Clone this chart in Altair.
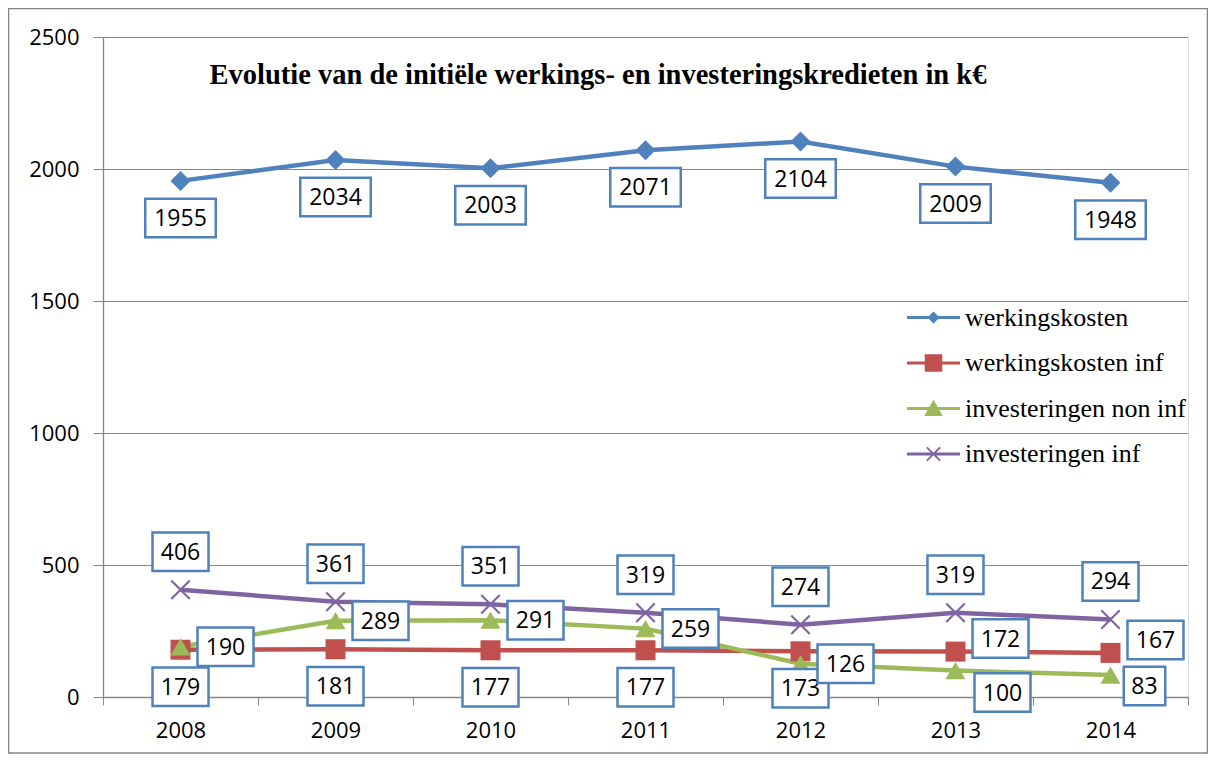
import altair as alt
import pandas as pd

# ---------------- data ----------------
years = ["2008", "2009", "2010", "2011", "2012", "2013", "2014"]
series_names = ["werkingskosten", "werkingskosten inf",
                "investeringen non inf", "investeringen inf"]
werkingskosten = [1955, 2034, 2003, 2071, 2104, 2009, 1948]
werkingskosten_inf = [179, 181, 177, 177, 173, 172, 167]
investeringen_non_inf = [190, 289, 291, 259, 126, 100, 83]
investeringen_inf = [406, 361, 351, 319, 274, 319, 294]
y_ticks = [0, 500, 1000, 1500, 2000, 2500]
title_text = "Evolutie van de initiële werkings- en investeringskredieten in k€"

# ---------------- styling ----------------
colors = ["#4F81BD", "#C0504D", "#9BBB59", "#8064A2"]
label_place = {
    "werkingskosten": ["below"] * 7,
    "werkingskosten inf": ["below"] * 5 + ["right_up", "right_up"],
    "investeringen non inf": ["right"] * 5 + ["right_down", "right_down2"],
    "investeringen inf": ["above"] * 7,
}
place_offsets = {
    "below": (0, 37), "above": (0, -38), "right": (45, 0),
    "right_up": (45, -13), "right_down": (47, 22), "right_down2": (34, 11),
}
GREY = "#868686"
NUM_FONT = "Open Sans"
SERIF = "Liberation Serif"


def x_path(a, t):
    return (f"M{-a},{-a + t}L{-a + t},{-a}L{a},{a - t}L{a - t},{a}Z"
            f"M{a - t},{-a}L{a},{-a + t}L{-a + t},{a}L{-a},{a - t}Z")


marker_shapes = ["diamond", "square", "triangle-up", x_path(1, 0.15)]

values_by_series = [werkingskosten, werkingskosten_inf,
                    investeringen_non_inf, investeringen_inf]
rows = []
for s, vals in zip(series_names, values_by_series):
    for i, (yr, v) in enumerate(zip(years, vals)):
        rows.append({"year": yr, "series": s, "value": v, "label": str(v),
                     "place": label_place[s][i], "nd": len(str(v))})
df = pd.DataFrame(rows)

W, H = 1085, 660

x_enc = alt.X("year:N", sort=years,
              scale=alt.Scale(type="band", paddingInner=0, paddingOuter=0),
              axis=alt.Axis(title=None, labelFont=NUM_FONT, labelFontSize=22,
                            labelColor="black", domainColor=GREY, tickColor=GREY,
                            tickSize=8, tickBand="extent", labelPadding=15,
                            grid=False, labelAngle=0, domainWidth=1.3))
y_enc = alt.Y("value:Q", scale=alt.Scale(domain=[0, 2500], nice=False),
              axis=alt.Axis(title=None, values=y_ticks, format="d",
                            labelFont=NUM_FONT,
                            labelFontSize=22, labelColor="black",
                            domainColor=GREY, tickColor=GREY, tickSize=10,
                            labelPadding=14, gridColor=GREY, gridWidth=1,
                            domainWidth=1.3))
col_scale = alt.Scale(domain=series_names, range=colors)

base = alt.Chart(df)

frame = alt.Chart(pd.DataFrame({"a": [0]})).mark_rect(
    filled=False, stroke=GREY, strokeWidth=1.5
).encode(x=alt.value(-94.5), x2=alt.value(W + 19.5),
         y=alt.value(-28.5), y2=alt.value(H + 56))

line_part = "M-2,-0.11H2V0.11H-2Z"
legend_paths = [
    line_part + "M-0.46,0L0,-0.46L0.46,0L0,0.46Z",
    line_part + "M-0.66,-0.66H0.66V0.66H-0.66Z",
    line_part + "M0,-0.66L0.7,0.56H-0.7Z",
    line_part + x_path(0.55, 0.1),
]
leg = dict(title=None, orient="none", legendX=817, legendY=267, padding=0,
           labelFont=SERIF, labelFontSize=26, labelColor="black",
           labelLimit=600, symbolOpacity=1, labelOffset=18,
           rowPadding=18.5, symbolSize=702, symbolStrokeWidth=0)
legend_layer = base.mark_point(filled=True, opacity=0, size=702).encode(
    x=x_enc, y=y_enc,
    color=alt.Color("series:N", scale=col_scale, legend=alt.Legend(**leg)),
    shape=alt.Shape("series:N", scale=alt.Scale(domain=series_names, range=legend_paths),
                    legend=alt.Legend(**leg)),
)

lines = base.mark_line(strokeWidth=4.5).encode(
    x=x_enc, y=y_enc,
    color=alt.Color("series:N", scale=col_scale),
    detail="series:N",
)

marker_layers = []
for s, shp in zip(series_names, marker_shapes):
    marker_layers.append(
        base.transform_filter(alt.datum.series == s)
        .mark_point(filled=True, opacity=1, size=400, shape=shp)
        .encode(x=x_enc, y=y_enc,
                color=alt.Color("series:N", scale=col_scale))
    )

label_layers = []
for s in series_names:
    for p in dict.fromkeys(label_place[s]):
        dx, dy = place_offsets[p]
        sub = df[(df.series == s) & (df.place == p)]
        for nd in sorted(sub.nd.unique()):
            w = 15 + 14.5 * nd - 2.5
            h = 41 - 2.5
            r = h / w
            box_path = f"M-1,{-r:.4f}H1V{r:.4f}H-1Z"
            label_layers.append(
                base.transform_filter(
                    (alt.datum.series == s) & (alt.datum.place == p) & (alt.datum.nd == int(nd)))
                .mark_point(filled=True, fill="white", stroke="#4F81BD",
                            strokeWidth=2.5, opacity=1, shape=box_path,
                            size=w * w, xOffset=dx, yOffset=dy)
                .encode(x=x_enc, y=y_enc)
            )
        label_layers.append(
            base.transform_filter((alt.datum.series == s) & (alt.datum.place == p))
            .mark_text(font=NUM_FONT, fontSize=23, color="black",
                       dx=dx, dy=dy + 1, baseline="middle", align="center")
            .encode(x=x_enc, y=y_enc, text="label:N")
        )

title = alt.Chart(pd.DataFrame({"t": [title_text]})).mark_text(
    font=SERIF, fontSize=28.5, fontWeight="bold", color="black",
    align="center", baseline="middle"
).encode(text="t:N", x=alt.value(495), y=alt.value(38))

chart = alt.layer(frame, legend_layer, lines, *marker_layers, *label_layers, title).properties(
    width=W, height=H,
    autosize=alt.AutoSizeParams(type="none"),
    padding={"left": 95, "top": 29, "right": 20, "bottom": 57},
).configure_view(stroke=None).configure(background="white")

chart.save("out.html", embed_options={"renderer": "svg", "actions": False})
